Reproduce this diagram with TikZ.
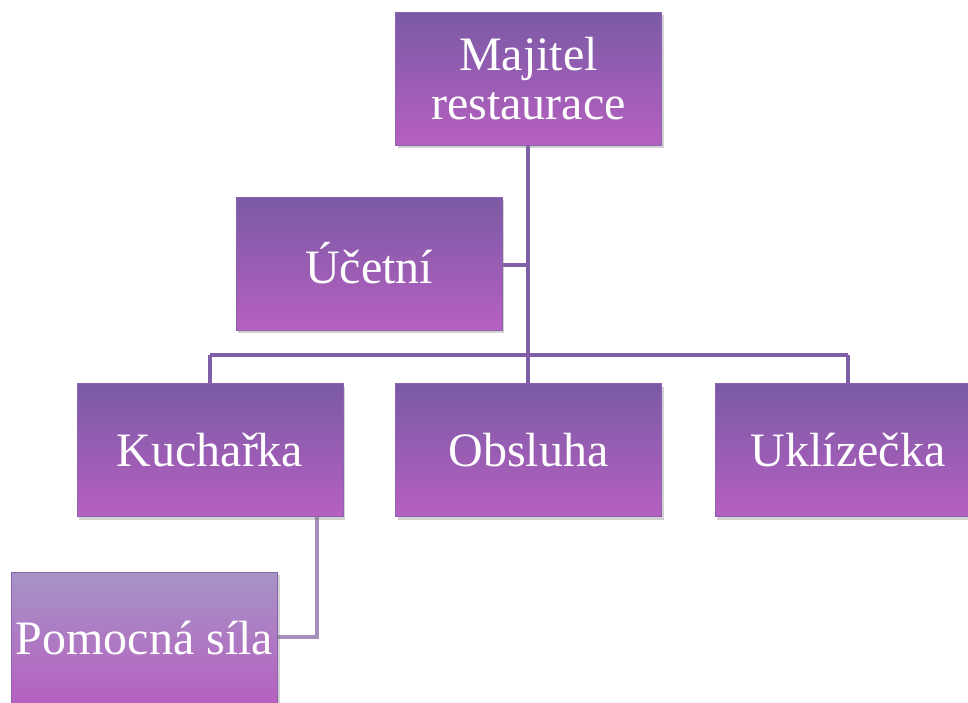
\documentclass[tikz,border=0pt]{standalone}
\usepackage{fontspec}
\setmainfont{Liberation Serif}
\usetikzlibrary{shadows}
\definecolor{boxtop}{HTML}{7A5AA5}
\definecolor{boxbot}{HTML}{B660C0}
\definecolor{boxedge}{HTML}{8A62AE}
\definecolor{lighttop}{HTML}{A694C6}
\definecolor{conn}{HTML}{7F5FA8}
\definecolor{lightconn}{HTML}{A58FBD}
\tikzset{
  orgbox/.style={minimum width=266pt, minimum height=133pt, inner sep=2pt,
    top color=boxtop, bottom color=boxbot, draw=boxedge, line width=0.8pt,
    text=white, align=center, font=\fontsize{48}{49}\selectfont,
    drop shadow={shadow xshift=2pt, shadow yshift=-3pt, opacity=0.35}},
  lightbox/.style={orgbox, top color=lighttop},
  link/.style={draw=conn, line width=4.5pt},
  lightlink/.style={draw=lightconn, line width=4.5pt}
}
\begin{document}
\begin{tikzpicture}[x=1pt,y=-1pt]
\useasboundingbox (0,0) rectangle (968,702);
\clip (0,0) rectangle (968,702);
\fill[white] (0,0) rectangle (968,702);
\coordinate (trunkbot) at (528,355);
\coordinate (barL) at (210,355);
\coordinate (barR) at (848,355);
\coordinate (kdown) at (317,517);
\coordinate (kcorner) at (317,637);
% connectors
\draw[link] (528,145) -- (trunkbot);
\draw[link] (502,265) -- (528,265);
\draw[link] (barL) -- (barR);
\draw[link] (barL) -- (210,383);
\draw[link] (trunkbot) -- (528,383);
\draw[link] (barR) -- (848,383);
\draw[lightlink] (kdown) -- (kcorner) -- (277,637);
% boxes
\node[orgbox] (maj) at (528.5,78.5) {Majitel\\restaurace};
\node[orgbox] (uc) at (369,263.5) {Účetní};
\node[orgbox] (kuch) at (210,450) {Kuchařka};
\node[orgbox] (obs) at (528.5,450) {Obsluha};
\node[orgbox] (ukl) at (848,450) {Uklízečka};
\node[lightbox] (pom) at (144.5,638.5) {Pomocná síla};
\end{tikzpicture}
\end{document}
